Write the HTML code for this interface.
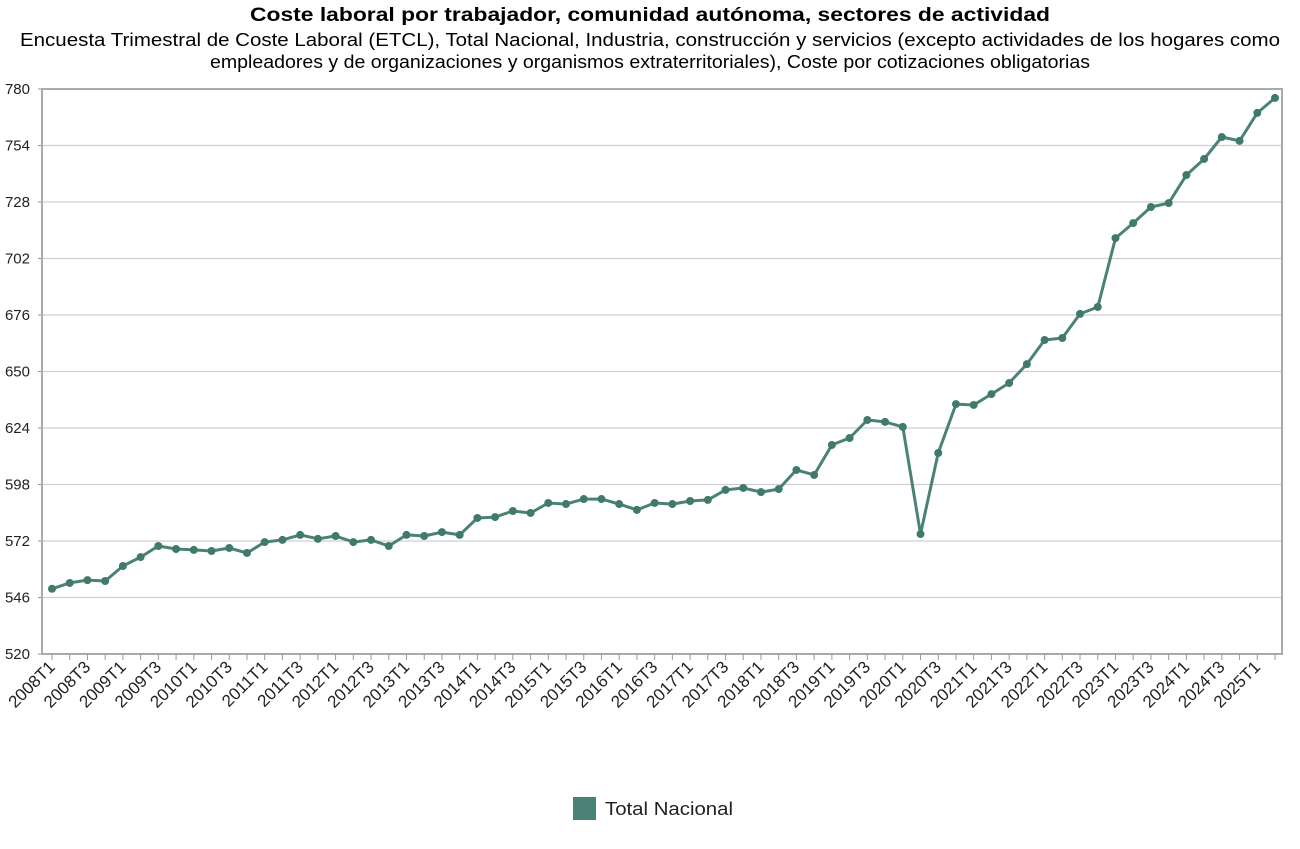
<!DOCTYPE html>
<html><head><meta charset="utf-8"><style>
body{margin:0;background:#fff;font-family:"Liberation Sans",Arial,sans-serif}
</style></head><body>
<svg id="chart" width="1300" height="844" xmlns="http://www.w3.org/2000/svg" font-family="Liberation Sans, Arial, sans-serif">
<text x="650" y="21" text-anchor="middle" font-size="19" font-weight="bold" fill="#000" textLength="800" lengthAdjust="spacingAndGlyphs">Coste laboral por trabajador, comunidad autónoma, sectores de actividad</text>
<text x="650" y="46" text-anchor="middle" font-size="18" fill="#000" textLength="1260" lengthAdjust="spacingAndGlyphs">Encuesta Trimestral de Coste Laboral (ETCL), Total Nacional, Industria, construcción y servicios (excepto actividades de los hogares como</text>
<text x="650" y="68" text-anchor="middle" font-size="18" fill="#000" textLength="880" lengthAdjust="spacingAndGlyphs">empleadores y de organizaciones y organismos extraterritoriales), Coste por cotizaciones obligatorias</text>
<g id="grid"></g><g id="axes"></g><g id="series"></g>
<g>
<rect x="573" y="797" width="23" height="23" fill="#4a8276"/>
<text x="605" y="815" font-size="18" fill="#222" textLength="128" lengthAdjust="spacingAndGlyphs">Total Nacional</text>
</g>
</svg>
<script>
const years=[2008,2009,2010,2011,2012,2013,2014,2015,2016,2017,2018,2019,2020,2021,2022,2023,2024,2025];
const values=[550,552.7,554,553.6,560.5,564.6,569.7,568.3,567.9,567.4,568.8,566.5,571.5,572.5,574.8,573,574.3,571.5,572.5,569.7,574.8,574.3,576.1,574.8,582.6,583,585.8,584.9,589.5,589,591.3,591.3,589,586.3,589.5,589,590.4,590.9,595.5,596.4,594.5,595.9,604.7,602.4,616.2,619.4,627.7,626.8,624.5,575.2,612.5,635,634.6,639.6,644.7,653.4,664.5,665.4,676.5,679.7,711.4,718.3,725.7,727.5,740.4,747.8,757.9,756.1,769,775.9];
const yTicks=[520,546,572,598,624,650,676,702,728,754,780];
const categories=[];
years.forEach(y=>{for(let q=1;q<=4;q++)categories.push(y+'T'+q);});
categories.length=values.length;
const NS='http://www.w3.org/2000/svg';
const X0=42,X1=1282,Y0=654,Y1=89,yMin=520,yMax=780;
const n=categories.length;
const xs=i=>52+i*(1275-52)/(n-1);
const ys=v=>Y0-(v-yMin)/(yMax-yMin)*(Y0-Y1);
function mk(tag,attrs,parent){const e=document.createElementNS(NS,tag);for(const k in attrs)e.setAttribute(k,attrs[k]);parent.appendChild(e);return e;}
const grid=document.getElementById('grid'),axes=document.getElementById('axes'),series=document.getElementById('series');
yTicks.forEach(t=>{
 const g=mk('line',{x1:X0,x2:X1,y1:ys(t),y2:ys(t),stroke:'#cfcfcf','stroke-width':1.3},grid);
 
 
 const tk=mk('line',{x1:X0-4,x2:X0,y1:ys(t),y2:ys(t),stroke:'#999'},axes);
 
 
 const lb=mk('text',{x:X0-12,y:ys(t)+5,'text-anchor':'end','font-size':15,fill:'#222'},axes);
 lb.textContent=t;
 
 
});
const frame=mk('rect',{x:X0,y:Y1,width:X1-X0,height:Y0-Y1,fill:'none',stroke:'#aaa','stroke-width':2},axes);


categories.forEach((c,i)=>{
 const tk=mk('line',{x1:xs(i),x2:xs(i),y1:Y0,y2:Y0+6,stroke:'#999'},axes);
 
 
 if(i%2===0){
  const x=xs(i)+4,y=Y0+14;
  const lb=mk('text',{x:x,y:y,'text-anchor':'end','font-size':17,fill:'#222',transform:`rotate(-45 ${x} ${y})`},axes);
  lb.textContent=c;
  
  
 }
});
const pts=values.map((v,i)=>xs(i).toFixed(1)+','+ys(v).toFixed(1)).join(' ');
const line=mk('polyline',{points:pts,fill:'none',stroke:'#4a8276','stroke-width':3,'stroke-linejoin':'round'},series);


values.forEach((v,i)=>{
 const c=mk('circle',{cx:xs(i),cy:ys(v),r:4,fill:'#3f7a6d'},series);
 
 
});
</script>
</body></html>
